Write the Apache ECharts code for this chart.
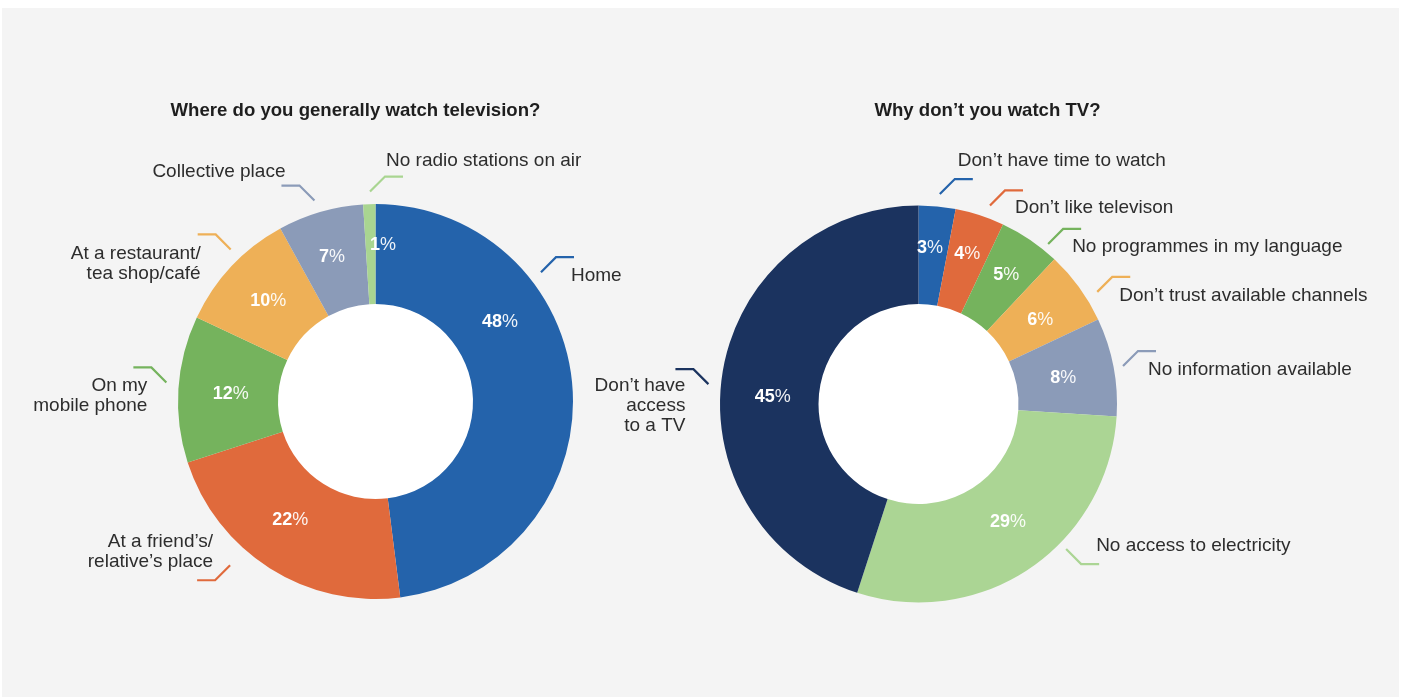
<!DOCTYPE html>
<html>
<head>
<meta charset="utf-8">
<title>Television viewing</title>
<script src="https://cdn.jsdelivr.net/npm/echarts@6/dist/echarts.min.js"></script>
<style>
  html, body { margin: 0; padding: 0; background: #ffffff; }
  #chart { width: 1403px; height: 697px; }
</style>
</head>
<body>
<div id="chart"></div>
<script>
// ---- data ----
const whereTitle = 'Where do you generally watch television?';
const whereCategories = [
  'Home',
  'At a friend’s/\nrelative’s place',
  'On my\nmobile phone',
  'At a restaurant/\ntea shop/café',
  'Collective place',
  'No radio stations on air'
];
const whereValues = [48, 22, 12, 10, 7, 1];

const whyTitle = 'Why don’t you watch TV?';
const whyCategories = [
  'Don’t have time to watch',
  'Don’t like televison',
  'No programmes in my language',
  'Don’t trust available channels',
  'No information available',
  'No access to electricity',
  'Don’t have\naccess\nto a TV'
];
const whyValues = [3, 4, 5, 6, 8, 29, 45];

// ---- styling ----
const whereColors = ['#2463ab', '#e06a3c', '#75b35d', '#eeb057', '#8b9bb8', '#a9d591'];
const whyColors = ['#2463ab', '#e06a3c', '#75b35d', '#eeb057', '#8b9bb8', '#abd594', '#1b335f'];
const FONT = '"Liberation Sans", Arial, Helvetica, sans-serif';
const TEXT = '#2d2d2d';

// geometry of the two donuts (pixels)
const leftPie = { cx: 375.5, cy: 401.5, r0: 97.5, r1: 197.5 };
const rightPie = { cx: 918.5, cy: 404, r0: 100, r1: 198.5 };

// callout placement: angular shift from slice middle, optional start radius,
// optional forced side, text offset from the line start
const whereCallouts = [
  { shift: -34.4, dx: 30, dy: 4 },
  { shift: 9.2, r: 219, dx: -17, dy: -14 },
  { shift: 1.6, dx: -19, dy: 13 },
  { shift: 3.2, dx: -30, dy: 14 },
  { shift: -0.7, dx: -29, dy: -29 },
  { shift: 0.3, side: 1, dx: 16, dy: -31 }
];
const whyCallouts = [
  { shift: 0.4, dx: 18, dy: -33 },
  { shift: 1.8, dx: 25, dy: 2 },
  { shift: 4.8, r: 206, dx: 24, dy: 3 },
  { shift: 3.9, dx: 22, dy: 4 },
  { shift: 0.3, r: 208, dx: 25, dy: 4 },
  { shift: -11.3, r: 207, dx: 30, dy: -3 },
  { shift: -3.6, dx: -23, dy: 22 }
];
// value label placement inside the ring
const whereInner = [
  { shift: -28.8, r: 147.5 }, { shift: 3.3, r: 146 }, { shift: -0.8, r: 145 },
  { shift: 0, r: 147 }, { shift: -0.5, r: 151 }, { shift: 4.5, r: 157 }
];
const whyInner = [
  { shift: -1.2, r: 156 }, { shift: 0, r: 157.5 }, { shift: 0, r: 156 },
  { shift: 1.3, r: 148 }, { shift: 0.6, r: 147 }, { shift: -3, r: 148 },
  { shift: -6.2, r: 146 }
];

function midAngles(values) {
  const total = values.reduce((s, v) => s + v, 0);
  let acc = 0;
  return values.map(v => {
    const m = (acc + v / 2) / total * 360;
    acc += v;
    return m;
  });
}

function polar(geo, deg, r) {
  const a = deg * Math.PI / 180;
  return [geo.cx + r * Math.sin(a), geo.cy - r * Math.cos(a)];
}

function innerLayout(values, geo, tweaks) {
  const mids = midAngles(values);
  return function (params) {
    const t = tweaks[params.dataIndex] || {};
    const p = polar(geo, mids[params.dataIndex] + (t.shift || 0), t.r || (geo.r0 + geo.r1) / 2);
    return { x: p[0], y: p[1], align: 'center', verticalAlign: 'middle' };
  };
}

function calloutLayout(values, geo, callouts) {
  const mids = midAngles(values);
  return function (params) {
    const c = callouts[params.dataIndex];
    const deg = mids[params.dataIndex] + (c.shift || 0);
    const a = deg * Math.PI / 180;
    const sx = c.side || (Math.sin(a) >= 0 ? 1 : -1);
    const sy = Math.cos(a) >= 0 ? -1 : 1;
    const p0 = polar(geo, deg, c.r || geo.r1 + 12.5);
    const p1 = [p0[0] + 15 * sx, p0[1] + 15 * sy];
    const p2 = [p1[0] + 18 * sx, p1[1]];
    return {
      x: p0[0] + c.dx,
      y: p0[1] + c.dy,
      align: sx > 0 ? 'left' : 'right',
      verticalAlign: 'middle',
      labelLinePoints: [p0, p1, p2]
    };
  };
}

function ringSeries(values, names, colors, geo, inner) {
  return {
    type: 'pie',
    center: [geo.cx, geo.cy],
    radius: [geo.r0, geo.r1],
    startAngle: 90,
    clockwise: true,
    avoidLabelOverlap: false,
    silent: true,
    animation: false,
    itemStyle: { borderWidth: 0 },
    label: {
      show: true,
      position: 'inside',
      formatter: p => '{b|' + p.value + '}{p|%}',
      rich: {
        b: { fontFamily: FONT, fontSize: 18, fontWeight: 'bold', color: '#ffffff' },
        p: { fontFamily: FONT, fontSize: 18, fontWeight: 'normal', color: 'rgba(255,255,255,0.92)' }
      }
    },
    labelLine: { show: false },
    labelLayout: innerLayout(values, geo, inner),
    data: values.map((v, i) => ({ value: v, name: names[i], itemStyle: { color: colors[i] } }))
  };
}

function calloutSeries(values, names, colors, geo, callouts) {
  return {
    type: 'pie',
    center: [geo.cx, geo.cy],
    radius: [geo.r0, geo.r1],
    startAngle: 90,
    clockwise: true,
    avoidLabelOverlap: false,
    silent: true,
    animation: false,
    itemStyle: { color: 'rgba(0,0,0,0)', borderWidth: 0 },
    label: {
      show: true,
      position: 'outside',
      formatter: p => p.name,
      fontFamily: FONT,
      fontSize: 19,
      lineHeight: 20,
      color: TEXT
    },
    labelLine: { show: true, lineStyle: { width: 2.2 } },
    labelLayout: calloutLayout(values, geo, callouts),
    data: values.map((v, i) => ({
      value: v,
      name: names[i],
      labelLine: { lineStyle: { color: colors[i], width: 2.2 } }
    }))
  };
}

// white hole in the middle of each ring
function holeDisc(geo) {
  return {
    type: 'circle',
    z: -5,
    silent: true,
    shape: { cx: geo.cx, cy: geo.cy, r: geo.r0 + 1 },
    style: { fill: '#ffffff' }
  };
}

const titleStyle = { fontFamily: FONT, fontSize: 18.6, fontWeight: 'bold', color: '#1e1e1e' };

const chart = echarts.init(document.getElementById('chart'), null, { renderer: 'canvas' });
chart.setOption({
  backgroundColor: '#ffffff',
  animation: false,
  graphic: [
    {
      type: 'rect',
      z: -10,
      silent: true,
      shape: { x: 2, y: 8, width: 1397, height: 689 },
      style: { fill: '#f4f4f4' }
    },
    holeDisc(leftPie),
    holeDisc(rightPie)
  ],
  title: [
    { text: whereTitle, left: 355.5, top: 101, padding: 0, textAlign: 'center', textStyle: titleStyle },
    { text: whyTitle, left: 987.5, top: 101, padding: 0, textAlign: 'center', textStyle: titleStyle }
  ],
  series: [
    ringSeries(whereValues, whereCategories, whereColors, leftPie, whereInner),
    calloutSeries(whereValues, whereCategories, whereColors, leftPie, whereCallouts),
    ringSeries(whyValues, whyCategories, whyColors, rightPie, whyInner),
    calloutSeries(whyValues, whyCategories, whyColors, rightPie, whyCallouts)
  ]
});
</script>
</body>
</html>
